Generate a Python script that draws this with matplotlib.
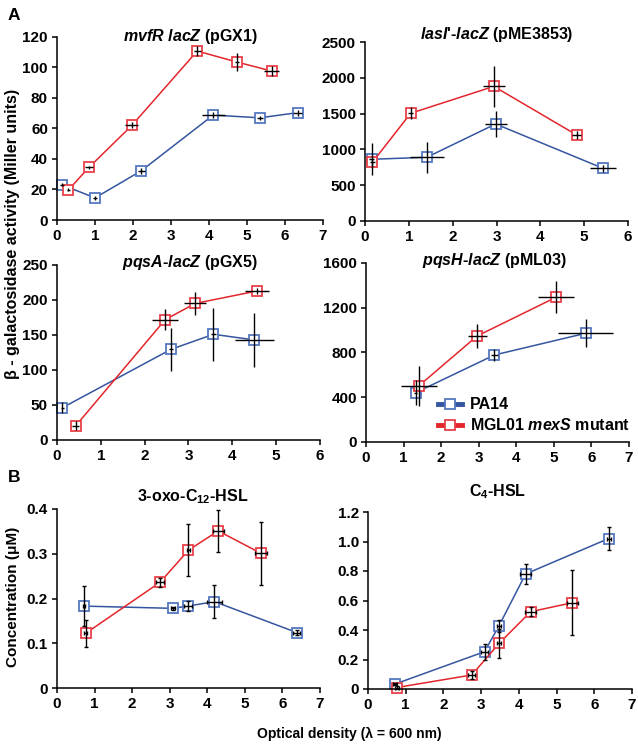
import matplotlib
matplotlib.use("Agg")
import matplotlib.pyplot as plt
from matplotlib.lines import Line2D

plt.rcParams['font.family'] = ['Liberation Sans', 'DejaVu Sans']
plt.rcParams['font.weight'] = 'bold'
plt.rcParams['mathtext.fontset'] = 'custom'
plt.rcParams['mathtext.rm'] = 'Liberation Sans:bold'
plt.rcParams['mathtext.it'] = 'Liberation Sans:italic:bold'
plt.rcParams['mathtext.bf'] = 'Liberation Sans:bold'

BLUE = '#34559f'
BLUE_M = '#5577c0'
RED = '#e3262c'
RED_M = '#e8414a'

# ---- data (OD600 vs value) ----
# mvfR lacZ (pGX1)
mvfr_pa14_x = [0.14, 1.0, 2.22, 4.11, 5.34, 6.33]
mvfr_pa14_y = [23, 14.5, 32.3, 68.8, 67, 70.4]
mvfr_pa14_xerr = [0.05, 0.05, 0.1, 0.3, 0.08, 0.13]
mvfr_pa14_yerr = [1, 1.5, 2, 2, 1.5, 2]
mvfr_mex_x = [0.30, 0.84, 1.97, 3.69, 4.73, 5.65]
mvfr_mex_y = [19.7, 34.5, 62, 110.8, 103.6, 97.7]
mvfr_mex_xerr = [0.03, 0.1, 0.17, 0.09, 0.05, 0.2]
mvfr_mex_yerr = [1, 1, 2, 3, 5.7, 3.6]

# lasI'-lacZ (pME3853)
lasi_pa14_x = [0.15, 1.41, 2.98, 5.43]
lasi_pa14_y = [862, 890, 1355, 736]
lasi_pa14_xerr = [0.05, 0.39, 0.25, 0.29]
lasi_pa14_yerr = [225, 220, 186, 50]
lasi_mex_x = [0.17, 1.04, 2.94, 4.83]
lasi_mex_y = [820, 1504, 1880, 1201]
lasi_mex_xerr = [0.05, 0.05, 0.25, 0.1]
lasi_mex_yerr = [60, 84, 287, 60]

# pqsA-lacZ (pGX5)
pqsa_pa14_x = [0.12, 2.60, 3.57, 4.50]
pqsa_pa14_y = [46, 129.5, 151, 143]
pqsa_pa14_xerr = [0.03, 0.05, 0.05, 0.44]
pqsa_pa14_yerr = [8, 31, 38, 39]
pqsa_mex_x = [0.43, 2.47, 3.15, 4.57]
pqsa_mex_y = [20.5, 172, 195, 213]
pqsa_mex_xerr = [0.08, 0.3, 0.25, 0.27]
pqsa_mex_yerr = [6, 15, 16, 4]

# pqsH-lacZ (pML03)
pqsh_pa14_x = [1.32, 3.42, 5.85]
pqsh_pa14_y = [441, 778, 972]
pqsh_pa14_xerr = [0.05, 0.1, 0.73]
pqsh_pa14_yerr = [110, 50, 127]
pqsh_mex_x = [1.41, 2.96, 5.06]
pqsh_mex_y = [503, 948, 1294]
pqsh_mex_xerr = [0.47, 0.25, 0.47]
pqsh_mex_yerr = [180, 105, 142]

# 3-oxo-C12-HSL
oxo_pa14_x = [0.72, 3.08, 3.48, 4.19, 6.38]
oxo_pa14_y = [0.183, 0.178, 0.183, 0.193, 0.124]
oxo_pa14_xerr = [0.02, 0.05, 0.1, 0.2, 0.1]
oxo_pa14_yerr = [0.045, 0.003, 0.012, 0.037, 0.005]
oxo_mex_x = [0.76, 2.74, 3.50, 4.29, 5.43]
oxo_mex_y = [0.122, 0.236, 0.308, 0.351, 0.301]
oxo_mex_xerr = [0.05, 0.1, 0.05, 0.15, 0.15]
oxo_mex_yerr = [0.03, 0.01, 0.058, 0.047, 0.07]

# C4-HSL
c4_pa14_x = [0.72, 3.09, 3.47, 4.18, 6.38]
c4_pa14_y = [0.034, 0.253, 0.427, 0.78, 1.02]
c4_pa14_xerr = [0.05, 0.1, 0.05, 0.15, 0.05]
c4_pa14_yerr = [0.01, 0.055, 0.04, 0.07, 0.08]
c4_mex_x = [0.76, 2.75, 3.48, 4.31, 5.42]
c4_mex_y = [0.01, 0.095, 0.31, 0.524, 0.585]
c4_mex_xerr = [0.05, 0.1, 0.05, 0.15, 0.15]
c4_mex_yerr = [0.01, 0.03, 0.1, 0.03, 0.22]

W, H = 638, 746
fig = plt.figure(figsize=(W / 100, H / 100), dpi=100)


def px_axes(l, t, r, b):
    return fig.add_axes([l / W, 1 - b / H, (r - l) / W, (b - t) / H])


def draw_series(ax, x, y, xerr, yerr, line_c, mark_c, cap):
    ax.plot(x, y, color=line_c, lw=1.1, marker='s', ms=6.5, mfc='white',
            mec=mark_c, mew=1.3, zorder=2, clip_on=False)
    ax.errorbar(x, y, xerr=xerr, yerr=yerr, fmt='none', ecolor='black',
                elinewidth=1.0, capsize=cap, capthick=1.0, zorder=3, clip_on=False)


def style(ax, xmax, ymax, yticks, ylabels=None):
    ax.set_xlim(0, xmax)
    ax.set_ylim(0, ymax)
    ax.set_xticks(range(xmax + 1))
    ax.set_yticks(yticks)
    if ylabels is not None:
        ax.set_yticklabels(ylabels)
    for s in ['top', 'right']:
        ax.spines[s].set_visible(False)
    for s in ['left', 'bottom']:
        ax.spines[s].set_linewidth(1.1)
    ax.tick_params(direction='out', length=3.5, width=1.1, labelsize=11, pad=3)
    for lab in ax.get_xticklabels() + ax.get_yticklabels():
        lab.set_fontweight('bold')


panels = [
    (px_axes(57, 37, 323, 220), 7, 120, range(0, 121, 20), None,
     (mvfr_pa14_x, mvfr_pa14_y, mvfr_pa14_xerr, mvfr_pa14_yerr),
     (mvfr_mex_x, mvfr_mex_y, mvfr_mex_xerr, mvfr_mex_yerr), 0),
    (px_axes(365, 42, 628, 221), 6, 2500, range(0, 2501, 500), None,
     (lasi_pa14_x, lasi_pa14_y, lasi_pa14_xerr, lasi_pa14_yerr),
     (lasi_mex_x, lasi_mex_y, lasi_mex_xerr, lasi_mex_yerr), 0),
    (px_axes(57, 265, 320, 440), 6, 250, range(0, 251, 50), None,
     (pqsa_pa14_x, pqsa_pa14_y, pqsa_pa14_xerr, pqsa_pa14_yerr),
     (pqsa_mex_x, pqsa_mex_y, pqsa_mex_xerr, pqsa_mex_yerr), 0),
    (px_axes(366, 263, 629, 442), 7, 1600, range(0, 1601, 400), None,
     (pqsh_pa14_x, pqsh_pa14_y, pqsh_pa14_xerr, pqsh_pa14_yerr),
     (pqsh_mex_x, pqsh_mex_y, pqsh_mex_xerr, pqsh_mex_yerr), 0),
    (px_axes(57, 509, 320, 688), 7, 0.4, [0, 0.1, 0.2, 0.3, 0.4],
     ['0', '0.1', '0.2', '0.3', '0.4'],
     (oxo_pa14_x, oxo_pa14_y, oxo_pa14_xerr, oxo_pa14_yerr),
     (oxo_mex_x, oxo_mex_y, oxo_mex_xerr, oxo_mex_yerr), 1.5),
    (px_axes(368, 512, 632, 689), 7, 1.2, [0, 0.2, 0.4, 0.6, 0.8, 1.0, 1.2],
     ['0', '0.2', '0.4', '0.6', '0.8', '1.0', '1.2'],
     (c4_pa14_x, c4_pa14_y, c4_pa14_xerr, c4_pa14_yerr),
     (c4_mex_x, c4_mex_y, c4_mex_xerr, c4_mex_yerr), 1.5),
]

axes = []
for ax, xmax, ymax, yt, yl, pa14, mex, cap in panels:
    draw_series(ax, *pa14, BLUE, BLUE_M, cap)
    draw_series(ax, *mex, RED, RED_M, cap)
    style(ax, xmax, ymax, yt, yl)
    axes.append(ax)

# titles
titles = [
    (r"$\mathit{mvfR\ lacZ}$ (pGX1)", 190, 36),
    (r"$\mathit{lasI}$'-$\mathit{lacZ}$ (pME3853)", 497, 35),
    (r"$\mathit{pqsA}$-$\mathit{lacZ}$ (pGX5)", 190, 262),
    (r"$\mathit{pqsH}$-$\mathit{lacZ}$ (pML03)", 494, 260),
    (r"3-oxo-C$_{12}$-HSL", 193, 497),
    (r"C$_{4}$-HSL", 498, 492),
]
for txt, x, y in titles:
    fig.text(x / W, 1 - y / H, txt, ha='center', va='center', fontsize=11.5,
             fontweight='bold')

fig.text(8 / W, 1 - 16 / H, 'A', fontsize=12.5, fontweight='bold', va='center')
fig.text(8 / W, 1 - 478 / H, 'B', fontsize=12.5, fontweight='bold', va='center')

fig.text(13 / W, 1 - 234 / H, 'β - galactosidase activity (Miller units)',
         rotation=90, ha='center', va='center', fontsize=11.5, fontweight='bold')
fig.text(13 / W, 1 - 597 / H, 'Concentration (μM)',
         rotation=90, ha='center', va='center', fontsize=11, fontweight='bold')
fig.text(349 / W, 1 - 734 / H, 'Optical density (λ = 600 nm)',
         ha='center', va='center', fontsize=10, fontweight='bold')

handles = [
    Line2D([], [], color=BLUE, lw=3.5, marker='s', ms=7, mfc='white', mec=BLUE_M, mew=1.3),
    Line2D([], [], color=RED, lw=3.5, marker='s', ms=7, mfc='white', mec=RED_M, mew=1.3),
]
leg = axes[3].legend(handles, ['PA14', r'MGL01 $\mathit{mexS}$ mutant'],
                     loc='upper left', bbox_to_anchor=(0.25, 0.285), frameon=False,
                     handlelength=1.5, handletextpad=0.5, labelspacing=0.3,
                     borderaxespad=0, prop={'size': 11.5, 'weight': 'bold'})

fig.savefig('out.png', dpi=100)
